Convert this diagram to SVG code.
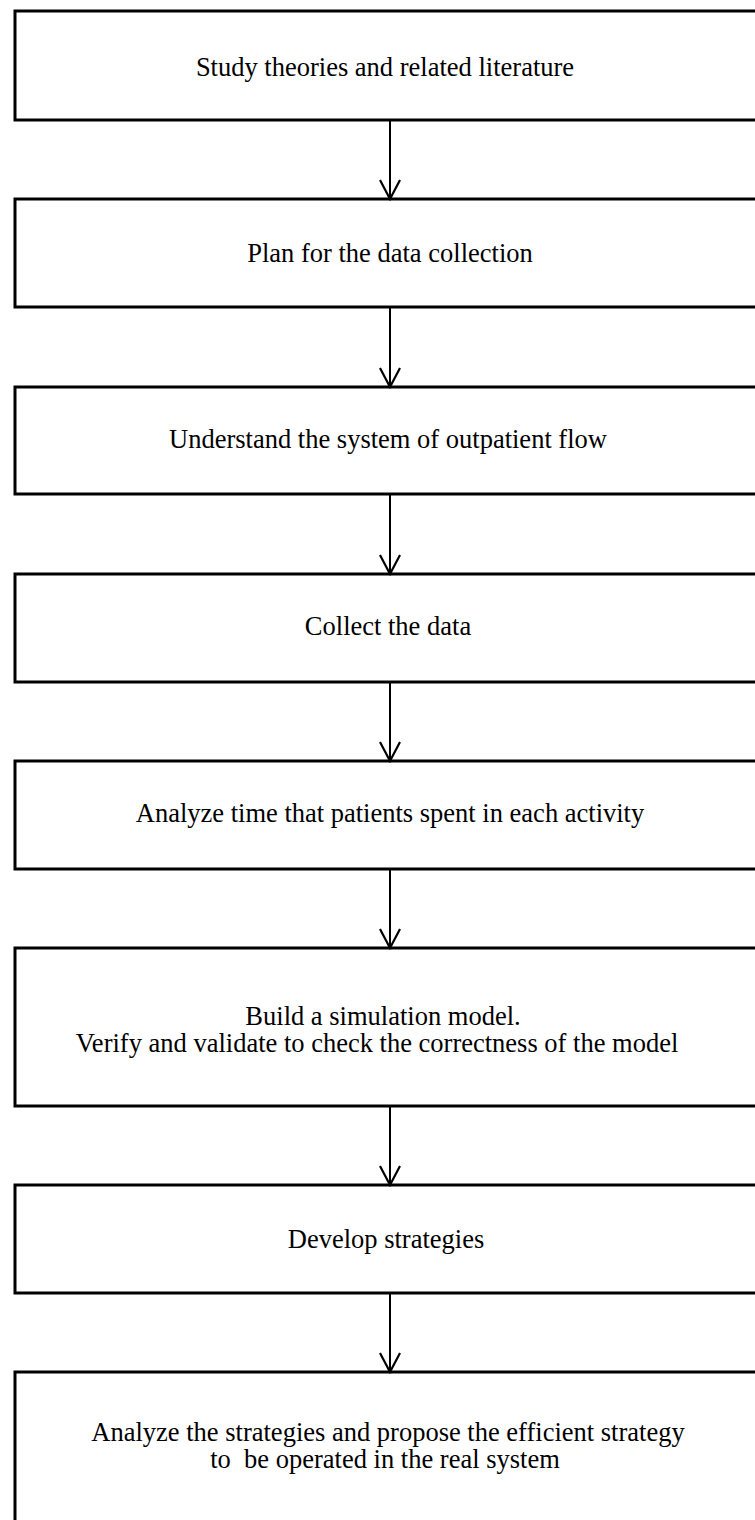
<svg xmlns="http://www.w3.org/2000/svg" width="755" height="1520" viewBox="0 0 755 1520">
  <style>
    .box { fill: #ffffff; stroke: #000000; stroke-width: 3; }
    .lbl { font-family: "Liberation Serif", "Times New Roman", serif; font-size: 26.5px; fill: #000000; text-anchor: middle; white-space: pre; }
    .link { stroke: #000000; stroke-width: 2; fill: none; }
  </style>
  <defs>
    <!-- open V arrowhead, drawn along +x so orient="auto" turns it with the line -->
    <marker id="vhead" viewBox="0 0 22 22" refX="20" refY="11" markerWidth="22" markerHeight="22" markerUnits="userSpaceOnUse" orient="auto">
      <path d="M1,1 L20,11 L1,21" fill="none" stroke="#000000" stroke-width="2.2"/>
    </marker>
  </defs>

  <rect width="755" height="1520" fill="#ffffff"/>

  <!-- process steps -->
  <g id="step1">
    <rect class="box" x="15" y="11" width="760" height="109"/>
    <text class="lbl" x="385" y="76">Study theories and related literature</text>
  </g>
  <g id="step2">
    <rect class="box" x="15" y="199" width="760" height="108"/>
    <text class="lbl" x="390" y="262">Plan for the data collection</text>
  </g>
  <g id="step3">
    <rect class="box" x="15" y="387" width="760" height="107"/>
    <text class="lbl" x="388" y="448">Understand the system of outpatient flow</text>
  </g>
  <g id="step4">
    <rect class="box" x="15" y="574" width="760" height="108"/>
    <text class="lbl" x="388" y="635">Collect the data</text>
  </g>
  <g id="step5">
    <rect class="box" x="15" y="761" width="760" height="108"/>
    <text class="lbl" x="390" y="822">Analyze time that patients spent in each activity</text>
  </g>
  <g id="step6">
    <rect class="box" x="15" y="948" width="760" height="158"/>
    <text class="lbl" x="383" y="1025">Build a simulation model.</text>
    <text class="lbl" x="377" y="1052">Verify and validate to check the correctness of the model</text>
  </g>
  <g id="step7">
    <rect class="box" x="15" y="1185" width="760" height="108"/>
    <text class="lbl" x="386" y="1248">Develop strategies</text>
  </g>
  <g id="step8">
    <rect class="box" x="15" y="1372" width="760" height="200"/>
    <text class="lbl" x="388" y="1441">Analyze the strategies and propose the efficient strategy</text>
    <text class="lbl" x="385" y="1468">to  be operated in the real system</text>
  </g>

  <!-- connectors -->
  <g id="connectors">
    <line class="link" x1="390" y1="120" x2="390" y2="199" marker-end="url(#vhead)"/>
    <line class="link" x1="390" y1="307" x2="390" y2="387" marker-end="url(#vhead)"/>
    <line class="link" x1="390" y1="494" x2="390" y2="574" marker-end="url(#vhead)"/>
    <line class="link" x1="390" y1="682" x2="390" y2="761" marker-end="url(#vhead)"/>
    <line class="link" x1="390" y1="869" x2="390" y2="948" marker-end="url(#vhead)"/>
    <line class="link" x1="390" y1="1106" x2="390" y2="1185" marker-end="url(#vhead)"/>
    <line class="link" x1="390" y1="1293" x2="390" y2="1372" marker-end="url(#vhead)"/>
  </g>
</svg>
